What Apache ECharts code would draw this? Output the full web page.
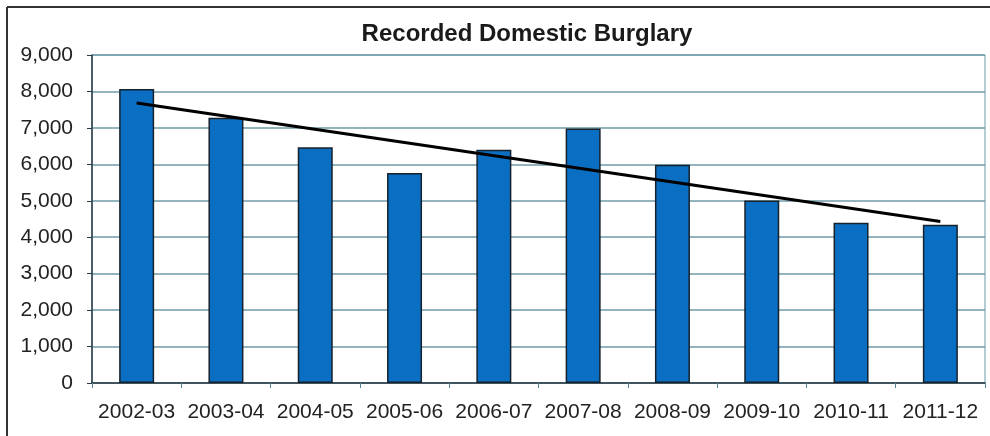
<!DOCTYPE html>
<html>
<head>
<meta charset="utf-8">
<script src="https://cdn.jsdelivr.net/npm/echarts@6/dist/echarts.min.js"></script>
<style>
  html, body { margin: 0; padding: 0; background: #fff; }
  #chart { width: 990px; height: 436px; }
</style>
</head>
<body>
<div id="chart"></div>
<script>
// Recorded domestic burglaries per financial year
const years = ['2002-03', '2003-04', '2004-05', '2005-06', '2006-07',
               '2007-08', '2008-09', '2009-10', '2010-11', '2011-12'];
const burglaries = [8070, 7280, 6470, 5760, 6400, 6980, 5990, 5010, 4400, 4340];
// Linear trend: value at first and last year, joined straight across
const trendStart = 7685;
const trendEnd = 4430;
const trend = years.map((_, i) => i === 0 ? trendStart : (i === years.length - 1 ? trendEnd : null));

const yMin = 0, yMax = 9000, yStep = 1000;

const font = 'Liberation Sans, Arial, sans-serif';

const chart = echarts.init(document.getElementById('chart'));
chart.setOption({
  backgroundColor: '#ffffff',
  animation: false,
  title: {
    text: 'Recorded Domestic Burglary',
    left: 522, top: 17, textAlign: 'center',
    textStyle: { fontFamily: font, fontSize: 24, fontWeight: 'bold', color: '#1a1a1a' }
  },
  grid: {
    left: 92, right: 5, top: 55, bottom: 53,
    show: true, borderColor: '#6f9aa8', borderWidth: 1, backgroundColor: 'transparent'
  },
  xAxis: {
    type: 'category',
    data: years,
    axisLine: { lineStyle: { color: '#2a3a44', width: 1.5 } },
    axisTick: { show: true, length: 5, lineStyle: { color: '#4f8596' } },
    axisLabel: {
      interval: 0,
      fontFamily: font, fontSize: 21, color: '#222', margin: 19
    },
    splitLine: { show: false }
  },
  yAxis: {
    type: 'value',
    min: yMin, max: yMax, interval: yStep,
    axisLine: { show: true, lineStyle: { color: '#2a3a44', width: 1.5 } },
    axisTick: { show: true, length: 5, lineStyle: { color: '#2a3a44' } },
    axisLabel: {
      fontFamily: font, fontSize: 21, color: '#222', margin: 19,
      formatter: v => v.toLocaleString('en-GB')
    },
    splitLine: { show: true, lineStyle: { color: '#6f9aa8', width: 1.5 } }
  },
  series: [
    {
      type: 'bar',
      data: burglaries,
      barWidth: 35,
      itemStyle: { color: '#0a6fc2', borderColor: '#17212b', borderWidth: 1.5 }
    },
    {
      type: 'line',
      data: trend,
      connectNulls: true,
      symbol: 'none',
      lineStyle: { color: '#000', width: 3 },
      z: 5
    }
  ],
  graphic: [
    { type: 'line', shape: { x1: 7, y1: 7, x2: 990, y2: 7 }, style: { stroke: '#333', lineWidth: 2 } },
    { type: 'line', shape: { x1: 7, y1: 7, x2: 7, y2: 436 }, style: { stroke: '#333', lineWidth: 2 } }
  ]
});
</script>
</body>
</html>
